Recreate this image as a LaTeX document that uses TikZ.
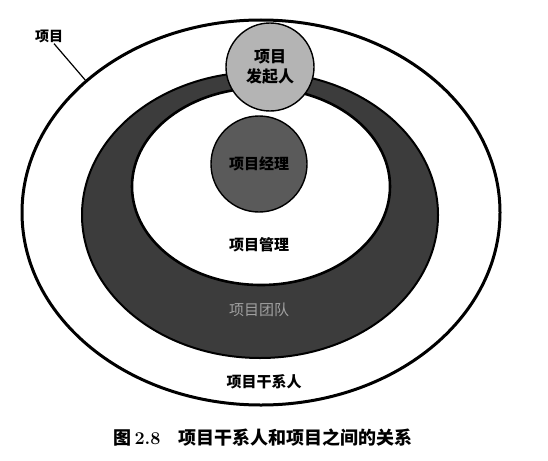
\documentclass[tikz,border=0pt]{standalone}
\usepackage{fontspec}
\newfontfamily\cjk{Noto Sans CJK SC}
\usetikzlibrary{shapes.geometric}
\definecolor{ringdark}{HTML}{3C3C3C}
\definecolor{pmgray}{HTML}{5A5A5A}
\definecolor{spgray}{HTML}{B4B4B4}
\definecolor{teamtext}{HTML}{A0A0A0}
\tikzset{
  ring/.style={ellipse, inner sep=0pt, draw=black},
  disc/.style={circle, inner sep=0pt, draw=black, line width=1.4pt},
  lbl/.style={font=\cjk\bfseries\fontsize{15}{17}\selectfont, text=black, inner sep=1pt},
}
\begin{document}
\begin{tikzpicture}[x=1pt,y=-1pt]
\useasboundingbox[fill=white] (0,0) rectangle (548,460);
% outer ellipse: project
\node[ring, line width=3pt, fill=white, minimum width=478pt, minimum height=385pt] (outer) at (261,212.5) {};
% dark ring: project team
\node[ring, line width=2pt, fill=ringdark, minimum width=356pt, minimum height=286pt] (team) at (260,215) {};
% inner ellipse: project management
\node[ring, line width=2.6pt, fill=white, minimum width=258pt, minimum height=197pt] (mgmt) at (261,186.5) {};
% project manager circle
\node[disc, fill=pmgray, minimum size=96pt] (pm) at (259,164) {};
% sponsor circle
\node[disc, fill=spgray, minimum size=88pt] (sp) at (270,67) {};
% labels
\node[lbl] (pmtext) at (pm) {项目经理};
\node[lbl, align=center, font=\cjk\bfseries\fontsize{16}{20}\selectfont] (sptext) at (sp) {项目\\发起人};
\node[lbl] (mgmttext) at (259,245) {项目管理};
\node[lbl, text=teamtext, font=\cjk\fontsize{15}{17}\selectfont] (teamtext) at (259,310) {项目团队};
\node[lbl] (stake) at (264,382) {项目干系人};
\node[lbl, font=\cjk\bfseries\fontsize{14}{16}\selectfont] (projlbl) at (49,36) {项目};
\draw[line width=1.2pt] ([xshift=5pt]projlbl.south) -- (outer.143);
% caption
\node[inner sep=0pt, font=\cjk\bfseries\fontsize{18}{20}\selectfont] (caption) at (263,438) {图\,{\rmfamily\bfseries 2.8}\hspace{1em}项目干系人和项目之间的关系};
\end{tikzpicture}
\end{document}
